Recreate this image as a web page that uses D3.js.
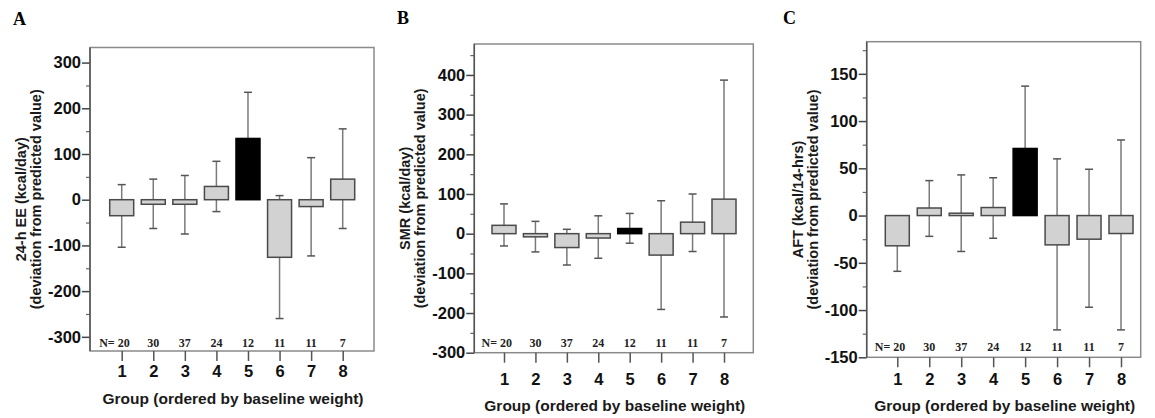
<!DOCTYPE html>
<html>
<head>
<meta charset="utf-8">
<script src="https://cdn.jsdelivr.net/npm/d3@7"></script>
<style>
  body { margin: 0; background: #fff; }
  svg { display: block; }
  .tick text { font-family: "Liberation Sans", Arial, sans-serif; font-weight: bold; }
</style>
</head>
<body>
<div id="chart"></div>
<script>
// DATA
const GROUPS = [1, 2, 3, 4, 5, 6, 7, 8];
const N_COUNTS = [20, 30, 37, 24, 12, 11, 11, 7];
const HIGHLIGHT_GROUP = 5;

// A: 24-h EE
const EE_MEAN = [-35, -10, -10, 29, 134, -126, -15, 45];
const EE_LOW  = [-104, -63, -75, -26, 33, -260, -123, -63];
const EE_HIGH = [33, 45, 53, 84, 235, 9, 92, 155];

// B: SMR
const SMR_MEAN = [21, -8, -35, -11, 13, -54, 29, 87];
const SMR_LOW  = [-31, -46, -79, -62, -24, -191, -45, -210];
const SMR_HIGH = [75, 31, 11, 45, 51, 83, 100, 387];

// C: AFT
const AFT_MEAN = [-32, 8, 2.5, 8.5, 71, -31, -25, -19];
const AFT_LOW  = [-59, -22, -38, -24, 5, -121, -97, -121];
const AFT_HIGH = [-5, 37, 43, 40, 137, 60, 49, 80];

const EE_TICKS  = [-300, -200, -100, 0, 100, 200, 300];
const SMR_TICKS = [-300, -200, -100, 0, 100, 200, 300, 400];
const AFT_TICKS = [-150, -100, -50, 0, 50, 100, 150];

const X_TITLE = "Group (ordered by baseline weight)";

const WIDTH = 1155;
const HEIGHT = 418;

const SVG = d3.select("#chart").append("svg")
  .attr("width", WIDTH)
  .attr("height", HEIGHT);

// panel layout
const PANELS = [
  {
    letter: "A", letterX: 13, letterY: 25,
    mean: EE_MEAN, low: EE_LOW, high: EE_HIGH,
    ticks: EE_TICKS, minorStep: 50,
    yDomain: [-331, 333],
    frame: {left: 90, right: 374, top: 47.5, bottom: 351},
    g1: 121.7, g8: 342.7,
    title: ["24-h EE (kcal/day)", "(deviation from predicted value)"],
    nY: 347, labelY: 376, titleY: 404
  },
  {
    letter: "B", letterX: 397, letterY: 24,
    mean: SMR_MEAN, low: SMR_LOW, high: SMR_HIGH,
    ticks: SMR_TICKS, minorStep: 50,
    yDomain: [-300, 478],
    frame: {left: 474.3, right: 753.3, top: 44, bottom: 352.7},
    g1: 504, g8: 724,
    title: ["SMR (kcal/day)", "(deviation from predicted value)"],
    nY: 347, labelY: 384, titleY: 411
  },
  {
    letter: "C", letterX: 783, letterY: 24,
    mean: AFT_MEAN, low: AFT_LOW, high: AFT_HIGH,
    ticks: AFT_TICKS, minorStep: 25,
    yDomain: [-150, 184],
    frame: {left: 866.7, right: 1140.7, top: 41.7, bottom: 357.3},
    g1: 897.3, g8: 1121,
    title: ["AFT (kcal/14-hrs)", "(deviation from predicted value)"],
    nY: 351, labelY: 384, titleY: 411
  }
];

PANELS.forEach(drawPanel);

// DRAW ONE PANEL
function drawPanel(p) {
  const f = p.frame;
  const g = SVG.append("g");

  const y = d3.scaleLinear().domain(p.yDomain).range([f.bottom, f.top]);
  const x = d3.scaleLinear().domain([1, 8]).range([p.g1, p.g8]);

  // panel letter
  g.append("text")
    .attr("x", p.letterX)
    .attr("y", p.letterY)
    .attr("font-family", "'Liberation Serif', 'Times New Roman', serif")
    .attr("font-weight", "bold")
    .attr("font-size", 18)
    .text(p.letter);

  // frame
  g.append("rect")
    .attr("x", f.left)
    .attr("y", f.top)
    .attr("width", f.right - f.left)
    .attr("height", f.bottom - f.top)
    .attr("fill", "none")
    .attr("stroke", "#8a8a8a")
    .attr("stroke-width", 1.5);

  // minor ticks
  const minor = d3.range(Math.ceil(p.yDomain[0] / p.minorStep) * p.minorStep,
                         p.yDomain[1] + 0.01, p.minorStep)
    .filter(v => p.ticks.indexOf(v) < 0);
  const minorAxis = g.append("g")
    .attr("transform", `translate(${f.left},0)`)
    .call(d3.axisLeft(y).tickValues(minor).tickSize(4).tickFormat(""));
  minorAxis.select(".domain").remove();
  minorAxis.selectAll("line").attr("stroke", "#666").attr("stroke-width", 1.2);

  // major ticks (plain hyphen for negatives, as in the original)
  const yAxis = g.append("g")
    .attr("transform", `translate(${f.left},0)`)
    .call(d3.axisLeft(y).tickValues(p.ticks).tickSize(8).tickPadding(1).tickFormat(d => String(d)));
  yAxis.select(".domain").remove();
  yAxis.selectAll("line").attr("stroke", "#444").attr("stroke-width", 1.5);
  yAxis.selectAll("text")
    .attr("font-size", 16.5)
    .attr("fill", "#111");

  // left axis line
  g.append("line")
    .attr("x1", f.left).attr("x2", f.left)
    .attr("y1", f.top).attr("y2", f.bottom)
    .attr("stroke", "#555")
    .attr("stroke-width", 1.5);

  // x ticks + labels
  const xAxis = g.append("g")
    .attr("transform", `translate(0,${f.bottom})`)
    .call(d3.axisBottom(x).tickValues(GROUPS).tickSize(10).tickPadding(p.labelY - f.bottom - 21).tickFormat(d => String(d)));
  xAxis.select(".domain").remove();
  xAxis.selectAll("line").attr("stroke", "#555").attr("stroke-width", 1.5);
  xAxis.selectAll("text")
    .attr("font-size", 16.5)
    .attr("fill", "#111");

  // x title
  g.append("text")
    .attr("x", (f.left + f.right) / 2 + 1)
    .attr("y", p.titleY)
    .attr("text-anchor", "middle")
    .attr("font-family", "'Liberation Sans', Arial, sans-serif")
    .attr("font-weight", "bold")
    .attr("font-size", 15.5)
    .attr("fill", "#1a1a1a")
    .text(X_TITLE);

  // y title (two lines)
  const cy = (f.top + f.bottom) / 2;
  p.title.forEach((line, i) => {
    g.append("text")
      .attr("transform", `translate(${f.left - 64 + i * 15},${cy}) rotate(-90)`)
      .attr("text-anchor", "middle")
      .attr("font-family", "'Liberation Sans', Arial, sans-serif")
      .attr("font-weight", "bold")
      .attr("font-size", 14.5)
      .attr("fill", "#1a1a1a")
      .text(line);
  });

  // whiskers
  const BOX_W = 24;
  const CAP_W = 8;
  const rows = GROUPS.map((grp, i) => ({
    group: grp, mean: p.mean[i], low: p.low[i], high: p.high[i], n: N_COUNTS[i]
  }));

  const whisk = g.append("g").selectAll("g")
    .data(rows)
    .enter()
    .append("g")
    .attr("stroke", "#7a7a7a")
    .attr("stroke-width", 1.5);
  whisk.append("line")
    .attr("x1", d => x(d.group)).attr("x2", d => x(d.group))
    .attr("y1", d => y(d.low)).attr("y2", d => y(d.high));
  whisk.append("line")
    .attr("x1", d => x(d.group) - CAP_W / 2).attr("x2", d => x(d.group) + CAP_W / 2)
    .attr("y1", d => y(d.high)).attr("y2", d => y(d.high))
    .attr("stroke", "#555");
  whisk.append("line")
    .attr("x1", d => x(d.group) - CAP_W / 2).attr("x2", d => x(d.group) + CAP_W / 2)
    .attr("y1", d => y(d.low)).attr("y2", d => y(d.low))
    .attr("stroke", "#555");

  // boxes (0 to mean)
  g.append("g").selectAll("rect")
    .data(rows)
    .enter()
    .append("rect")
    .attr("x", d => x(d.group) - BOX_W / 2)
    .attr("width", BOX_W)
    .attr("y", d => Math.min(y(0), y(d.mean)))
    .attr("height", d => Math.abs(y(0) - y(d.mean)))
    .attr("fill", d => d.group === HIGHLIGHT_GROUP ? "#000" : "#d2d2d2")
    .attr("stroke", d => d.group === HIGHLIGHT_GROUP ? "#000" : "#4a4a4a")
    .attr("stroke-width", 1.5);

  // N row
  g.append("g").selectAll("text")
    .data(rows)
    .enter()
    .append("text")
    .attr("x", (d, i) => i === 0 ? x(d.group) + 8 : x(d.group))
    .attr("y", p.nY)
    .attr("text-anchor", (d, i) => i === 0 ? "end" : "middle")
    .attr("font-family", "'Liberation Serif', 'Times New Roman', serif")
    .attr("font-weight", "bold")
    .attr("font-size", 12)
    .attr("fill", "#222")
    .text((d, i) => i === 0 ? "N= " + d.n : d.n);
}
</script>
</body>
</html>
